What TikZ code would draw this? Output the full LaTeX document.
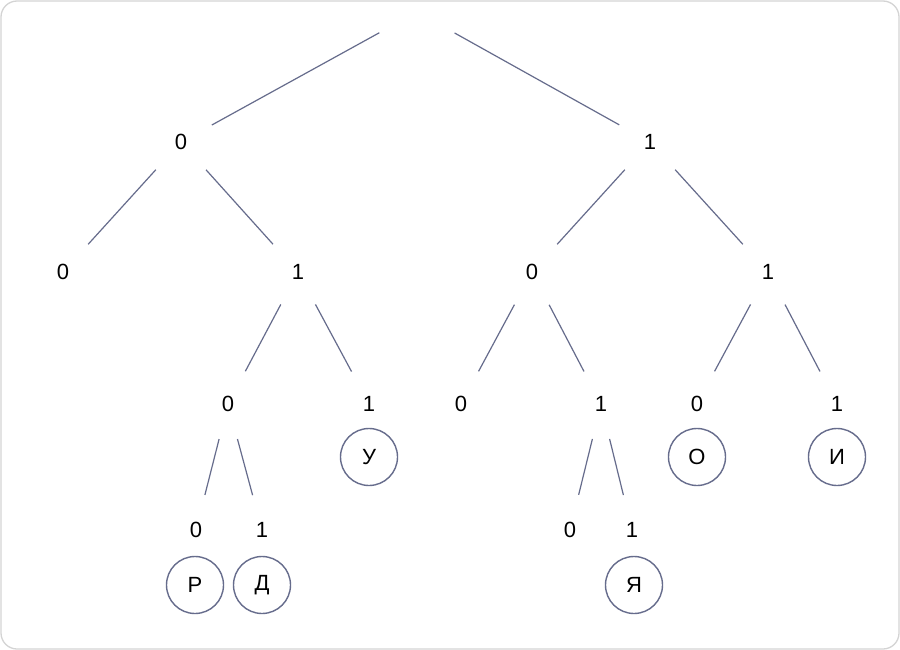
\documentclass[tikz,border=0pt]{standalone}
\usepackage{fontspec}
\setmainfont{Liberation Sans}
\definecolor{edgecol}{HTML}{666C8C}
\definecolor{framecol}{HTML}{D4D4D4}
\tikzset{
  bit/.style={font=\fontsize{22pt}{26pt}\selectfont, inner sep=0pt},
  leaf/.style={draw=edgecol, line width=1.4pt, circle, minimum size=57pt, inner sep=0pt, font=\fontsize{22pt}{26pt}\selectfont},
  branch/.style={draw=edgecol, line width=1.2pt, shorten <=28pt, shorten >=28pt}
}
\begin{document}
\begin{tikzpicture}[x=1pt, y=-1pt]
  % frame
  \draw[framecol, line width=1.3pt, rounded corners=16pt, fill=white] (1,1) rectangle (899,649);
  \useasboundingbox (0,0) rectangle (900,650);

  % root and first level
  \coordinate (r) at (417,12);
  \node[bit] (n0) at (181,142) {0};
  \node[bit] (n1) at (650,142) {1};

  % second level
  \node[bit] (n00) at (63,272) {0};
  \node[bit] (n01) at (298,272) {1};
  \node[bit] (n10) at (532,272) {0};
  \node[bit] (n11) at (768,272) {1};

  % third level
  \node[bit] (n010) at (228,404) {0};
  \node[bit] (n011) at (369,404) {1};
  \node[bit] (n100) at (461,404) {0};
  \node[bit] (n101) at (601,404) {1};
  \node[bit] (n110) at (697,404) {0};
  \node[bit] (n111) at (837,404) {1};

  % fourth level
  \node[bit] (n0100) at (196,530) {0};
  \node[bit] (n0101) at (262,530) {1};
  \node[bit] (n1010) at (570,530) {0};
  \node[bit] (n1011) at (632,530) {1};

  % letters
  \node[leaf] (cR) at (195,585) {Р};
  \node[leaf] (cD) at (262,585) {Д};
  \node[leaf] (cU) at (369,457) {У};
  \node[leaf] (cYa) at (634,585) {Я};
  \node[leaf] (cO) at (697,457) {О};
  \node[leaf] (cI) at (837,457) {И};

  % branches
  \draw[branch, shorten <=43pt] (r) -- (n0);
  \draw[branch, shorten <=43pt] (r) -- (n1);
  \foreach \a/\b in {n0/n00, n0/n01, n1/n10, n1/n11,
                     n01/n010, n01/n011, n10/n100, n10/n101, n11/n110, n11/n111,
                     n010/n0100, n010/n0101, n101/n1010, n101/n1011}
    \draw[branch] (\a) -- (\b);
\end{tikzpicture}
\end{document}
